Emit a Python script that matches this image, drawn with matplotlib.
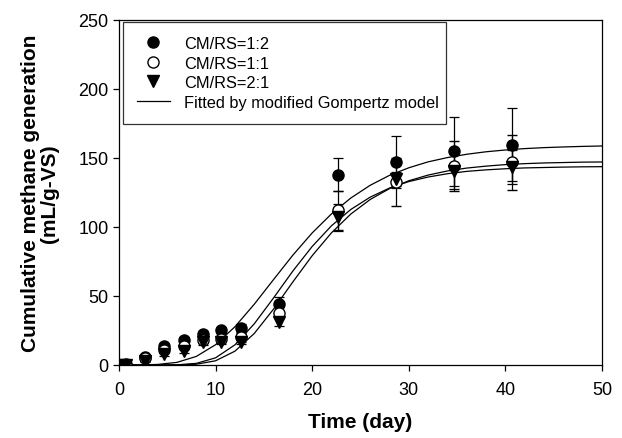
import matplotlib
matplotlib.use("Agg")
import matplotlib.pyplot as plt
from matplotlib.lines import Line2D

plt.rcParams["font.family"] = ["Liberation Sans", "DejaVu Sans"]

# measured points
days = [0, 0.7, 2.7, 4.7, 6.7, 8.7, 10.6, 12.6, 16.6, 22.7, 28.7, 34.7, 40.7]
cm_1_2 = [0, 0.5, 6, 14, 18, 22.5, 25, 27, 44, 138, 147, 155, 159.5]
cm_1_2_err = [0.5, 0.5, 1.5, 1.5, 2, 2, 2, 3, 5, 12, 19, 25, 26.5]
cm_1_1 = [0, 0.3, 5, 11, 14, 18, 19, 20, 38, 112, 132.5, 144, 147]
cm_1_1_err = [0.5, 0.5, 1.5, 1.5, 2, 2, 2, 3, 4, 14, 17.5, 18, 20]
cm_2_1 = [0, 0, 3, 8, 10, 16.5, 17, 17, 31, 107, 135, 140.5, 143.5]
cm_2_1_err = [0.5, 0.5, 1, 1.5, 1.5, 2, 2, 2, 3, 10, 5, 13, 12.5]

# fitted curves, every 2 days
fit_days = [0, 2, 4, 6, 8, 10, 12, 14, 16, 18, 20, 22, 24, 26, 28,
            30, 32, 34, 36, 38, 40, 42, 44, 46, 48, 50]
fit_1_2 = [0.0, 0.05, 0.4, 1.9, 6.2, 14.7, 27.7, 44.0, 61.9, 79.6, 95.7, 109.5, 121.0,
           130.2, 137.4, 142.9, 147.2, 150.3, 152.7, 154.5, 155.8, 156.8, 157.5, 158.0,
           158.4, 158.7]
fit_1_1 = [0.0, 0.0, 0.0, 0.05, 0.55, 3.05, 10.0, 22.8, 40.5, 60.2, 79.2, 95.8, 109.4,
           119.9, 127.8, 133.5, 137.6, 140.6, 142.7, 144.1, 145.2, 145.9, 146.4, 146.7,
           147.0, 147.1]
fit_2_1 = [0.0, 0.0, 0.01, 0.13, 1.17, 5.2, 14.6, 29.8, 48.6, 68.1, 85.9, 100.9, 112.7,
           121.6, 128.2, 132.9, 136.2, 138.6, 140.3, 141.4, 142.2, 142.8, 143.1, 143.4,
           143.6, 143.7]

series_labels = ["CM/RS=1:2", "CM/RS=1:1", "CM/RS=2:1"]
fit_label = "Fitted by modified Gompertz model"

fig = plt.figure(figsize=(6.22, 4.39), dpi=100)
ax = fig.add_axes([0.1913, 0.1663, 0.7765, 0.7859])

ebkw = dict(ecolor="black", elinewidth=0.9, capsize=3.6, capthick=0.9, linestyle="none")
ax.errorbar(days, cm_1_2, yerr=cm_1_2_err, fmt="o", color="black", markersize=8, **ebkw)
ax.errorbar(days, cm_1_1, yerr=cm_1_1_err, fmt="o", markerfacecolor="white",
            markeredgecolor="black", markeredgewidth=1.0, markersize=8, **ebkw)
ax.errorbar(days, cm_2_1, yerr=cm_2_1_err, fmt="v", color="black", markersize=8, **ebkw)

ax.plot(fit_days, fit_1_2, color="black", linewidth=0.9)
ax.plot(fit_days, fit_1_1, color="black", linewidth=0.9)
ax.plot(fit_days, fit_2_1, color="black", linewidth=0.9)

ax.set_xlim(0, 50)
ax.set_ylim(0, 250)
ax.set_xticks([0, 10, 20, 30, 40, 50])
ax.set_yticks([0, 50, 100, 150, 200, 250])
ax.tick_params(direction="out", length=4, width=0.9, labelsize=13, top=False, right=False)
ax.tick_params(axis="x", pad=7.5)
for s in ax.spines.values():
    s.set_linewidth(0.9)

ax.set_xlabel("Time (day)", fontsize=15, fontweight="bold", labelpad=10)
ax.set_ylabel("Cumulative methane generation\n(mL/g-VS)", fontsize=15,
              fontweight="bold", labelpad=14, linespacing=1.0)

handles = [
    Line2D([], [], marker="o", color="black", linestyle="none", markersize=8),
    Line2D([], [], marker="o", markerfacecolor="white", markeredgecolor="black",
           linestyle="none", markersize=8),
    Line2D([], [], marker="v", color="black", linestyle="none", markersize=8),
    Line2D([], [], color="black", linewidth=0.9),
]
leg = ax.legend(handles, series_labels + [fit_label], loc="upper left",
                bbox_to_anchor=(0.008, 0, 0.669, 0.994), mode="expand", borderaxespad=0,
                fontsize=11.8, frameon=True, fancybox=False, edgecolor="black",
                borderpad=0.85, labelspacing=0.28, handlelength=2.0, handletextpad=0.9)
leg.get_frame().set_linewidth(0.9)

fig.savefig("out.png", dpi=100)
